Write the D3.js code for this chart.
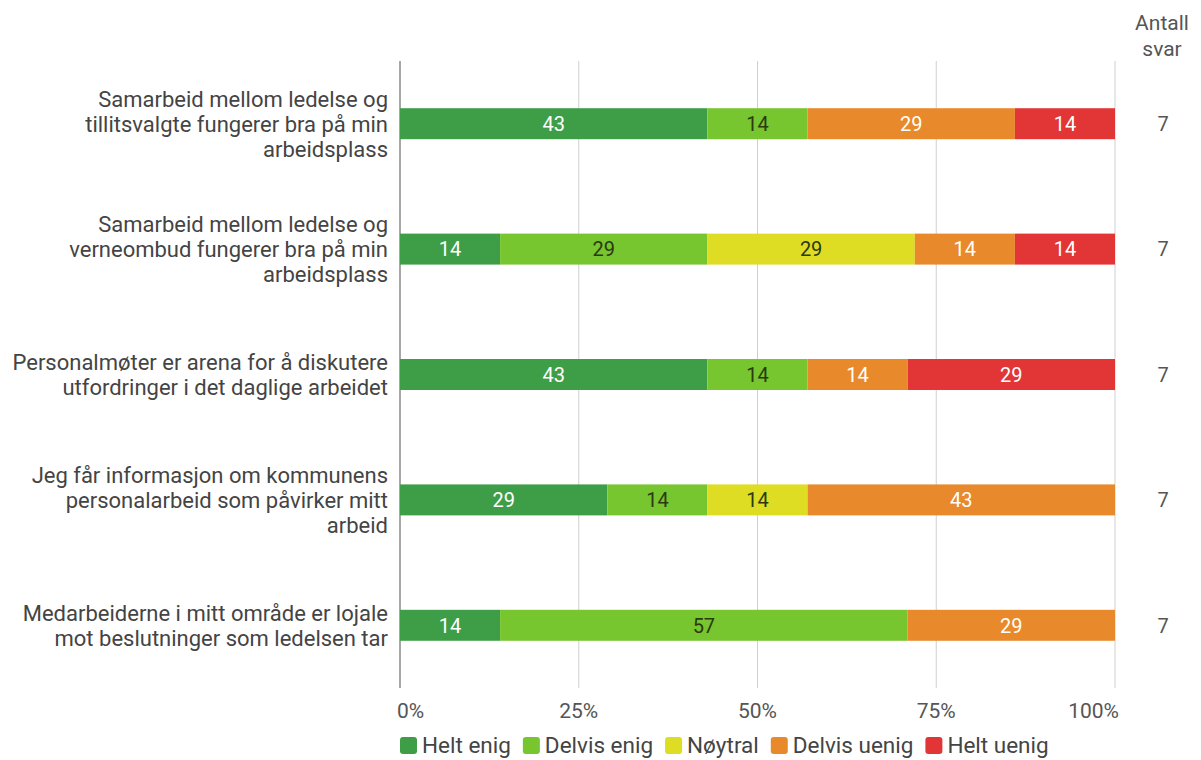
<!DOCTYPE html>
<html>
<head>
<meta charset="utf-8">
<script src="https://cdn.jsdelivr.net/npm/d3@7"></script>
<style>
  body { margin: 0; background: #fff; }
  svg text { font-family: Roboto, "Noto Sans", sans-serif; }
</style>
</head>
<body>
<svg id="chart" width="1201" height="760"></svg>
<script>
// questions, one line break per "\n" as in the survey report
const questions = [
  'Samarbeid mellom ledelse og\ntillitsvalgte fungerer bra på min\narbeidsplass',
  'Samarbeid mellom ledelse og\nverneombud fungerer bra på min\narbeidsplass',
  'Personalmøter er arena for å diskutere\nutfordringer i det daglige arbeidet',
  'Jeg får informasjon om kommunens\npersonalarbeid som påvirker mitt\narbeid',
  'Medarbeiderne i mitt område er lojale\nmot beslutninger som ledelsen tar'
]
const answers = ['Helt enig', 'Delvis enig', 'Nøytral', 'Delvis uenig', 'Helt uenig']
const colors = ['#3e9e48', '#77c52f', '#dfdc24', '#e88a2b', '#e23636']
// percent per answer, same order as answers
const helt_enig = [43, 14, 43, 29, 14]
const delvis_enig = [14, 29, 14, 14, 57]
const noytral = [0, 29, 0, 14, 0]
const delvis_uenig = [29, 14, 14, 43, 29]
const helt_uenig = [14, 14, 29, 0, 0]
const antall_svar = [7, 7, 7, 7, 7]
const ticks = [0, 25, 50, 75, 100]

const series = [helt_enig, delvis_enig, noytral, delvis_uenig, helt_uenig]
const rows = questions.map((q, i) => {
  const r = { q: q, n: antall_svar[i] }
  answers.forEach((a, j) => { r[a] = series[j][i] })
  return r
})

const svg = d3.select('#chart')
const x = d3.scaleLinear().domain([0, 100]).range([400, 1115])
const y = d3.scaleBand().domain(questions).range([61, 688]).paddingInner(0.753).paddingOuter(0.3765)
const color = d3.scaleOrdinal().domain(answers).range(colors)
const dark_text = ['Delvis enig', 'Nøytral']

// gridlines
svg.append('g').selectAll('line')
  .data(ticks)
  .enter()
  .append('line')
  .attr('x1', (d)=> x(d)).attr('x2', (d)=> x(d))
  .attr('y1', 61).attr('y2', 688)
  .attr('stroke', (d)=> d === 0 ? '#8a8a8a' : '#cfcfcf')
  .attr('stroke-width', (d)=> d === 0 ? 1.5 : 1)

// tick labels
svg.append('g').selectAll('text')
  .data(ticks)
  .enter()
  .append('text')
  .attr('x', (d)=> d === 0 ? x(d) - 3 : d === 100 ? x(d) + 4 : x(d))
  .attr('y', 718)
  .attr('text-anchor', (d)=> d === 0 ? 'start' : d === 100 ? 'end' : 'middle')
  .attr('font-size', 21)
  .attr('fill', '#555')
  .text((d)=> d + '%')

// stacked bars
const stack = d3.stack().keys(answers)(rows)
const layers = svg.append('g').selectAll('g')
  .data(stack)
  .enter()
  .append('g')
  .attr('fill', (d)=> color(d.key))

layers.selectAll('rect')
  .data((d)=> d.filter((s)=> s[1] > s[0]))
  .enter()
  .append('rect')
  .attr('x', (d)=> x(d[0]))
  .attr('y', (d)=> y(d.data.q))
  .attr('width', (d)=> x(d[1]) - x(d[0]))
  .attr('height', y.bandwidth())

layers.each(function(layer) {
  d3.select(this).selectAll('text')
    .data(layer.filter((s)=> s[1] > s[0]))
    .enter()
    .append('text')
    .attr('x', (d)=> (x(d[0]) + x(d[1])) / 2)
    .attr('y', (d)=> y(d.data.q) + y.bandwidth() / 2)
    .attr('dy', '0.36em')
    .attr('text-anchor', 'middle')
    .attr('font-size', 20)
    .attr('fill', dark_text.includes(layer.key) ? '#2a3a10' : '#fff')
    .text((d)=> d[1] - d[0])
})

// question labels
const labels = svg.append('g').selectAll('text')
  .data(questions)
  .enter()
  .append('text')
  .attr('text-anchor', 'end')
  .attr('font-size', 22)
  .attr('fill', '#444')

labels.each(function(q) {
  const lines = q.split('\n')
  const mid = y(q) + y.bandwidth() / 2
  lines.forEach((line, i) => {
    d3.select(this).append('tspan')
      .attr('x', 388)
      .attr('y', mid + (i - (lines.length - 1) / 2) * 25)
      .attr('dy', '0.36em')
      .text(line)
  })
})

// antall svar column
svg.append('text')
  .attr('x', 1162).attr('y', 22).attr('dy', '0.36em')
  .attr('text-anchor', 'middle').attr('font-size', 21).attr('fill', '#555')
  .text('Antall')
svg.append('text')
  .attr('x', 1162).attr('y', 48).attr('dy', '0.36em')
  .attr('text-anchor', 'middle').attr('font-size', 21).attr('fill', '#555')
  .text('svar')
svg.append('g').selectAll('text')
  .data(rows)
  .enter()
  .append('text')
  .attr('x', 1163)
  .attr('y', (d)=> y(d.q) + y.bandwidth() / 2)
  .attr('dy', '0.36em')
  .attr('text-anchor', 'middle')
  .attr('font-size', 20)
  .attr('fill', '#555')
  .text((d)=> d.n)

// legend
const legend = svg.append('g')
let lx = 400
answers.forEach((a) => {
  legend.append('rect')
    .attr('x', lx).attr('y', 737)
    .attr('width', 17).attr('height', 17).attr('rx', 3)
    .attr('fill', color(a))
  const t = legend.append('text')
    .attr('x', lx + 22).attr('y', 745).attr('dy', '0.36em')
    .attr('font-size', 22.5).attr('fill', '#444')
    .text(a)
  lx += 22 + t.node().getComputedTextLength() + 12
})
</script>
</body>
</html>
